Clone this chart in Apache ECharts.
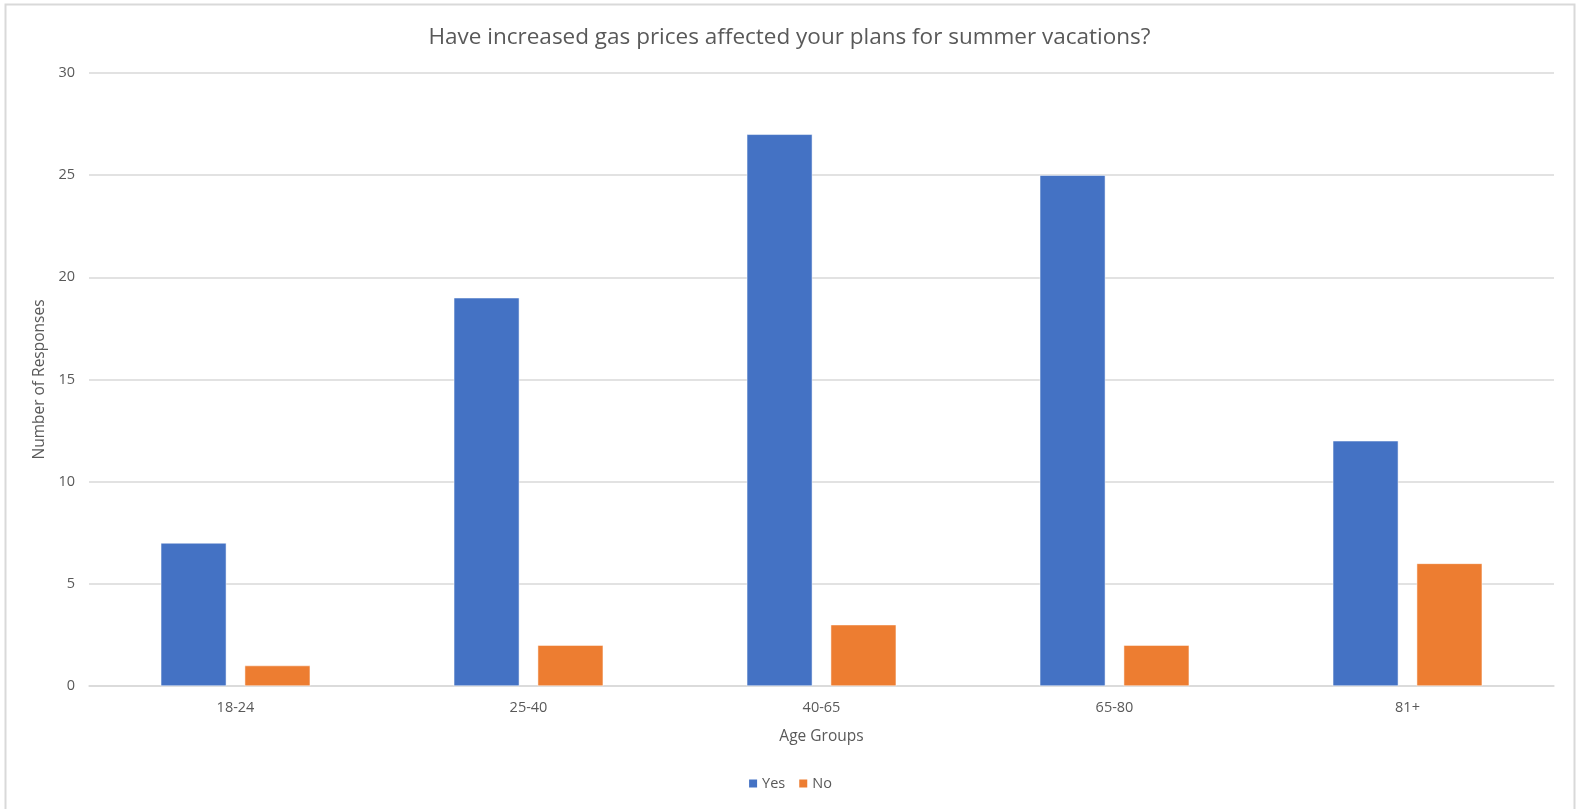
<!DOCTYPE html>
<html>
<head>
<meta charset="utf-8">
<title>Gas prices and summer vacations</title>
<script src="https://cdn.jsdelivr.net/npm/echarts@6/dist/echarts.min.js"></script>
<style>
    html, body { margin: 0; padding: 0; background: #fff; }
    #chart { width: 1579px; height: 809px; }
</style>
</head>
<body>
<div id="chart"></div>
<script>
// data
const ageGroups = ['18-24', '25-40', '40-65', '65-80', '81+']
const yesValues = [7, 19, 27, 25, 12]
const noValues = [1, 2, 3, 2, 6]
const yTicks = { min: 0, max: 30, interval: 5 }

const textColor = '#595959'
const fontFamily = '"Open Sans", "Liberation Sans", sans-serif'

let myChart = echarts.init(document.getElementById('chart'))

let option = {
    backgroundColor: '#fff',
    textStyle: { fontFamily: fontFamily },
    title: {
        text: 'Have increased gas prices affected your plans for summer vacations?',
        left: 'center',
        top: 21,
        textStyle: {
            color: textColor,
            fontSize: 22.5,
            fontWeight: 'normal',
            fontFamily: fontFamily
        }
    },
    legend: {
        bottom: 13,
        left: 'center',
        itemWidth: 10,
        itemHeight: 10,
        itemGap: 12,
        icon: 'rect',
        textStyle: { color: textColor, fontSize: 14.5, padding: [0, 0, 0, -1] },
        data: ['Yes', 'No']
    },
    grid: {
        left: 89,
        right: 25,
        top: 73,
        bottom: 123,
        containLabel: false
    },
    xAxis: {
        type: 'category',
        data: ageGroups,
        name: 'Age Groups',
        nameLocation: 'middle',
        nameGap: 43,
        nameTextStyle: { color: textColor, fontSize: 15.5 },
        axisLine: { lineStyle: { color: '#d9d9d9', width: 1.5 } },
        axisTick: { show: false },
        axisLabel: { color: textColor, fontSize: 14.5, margin: 14 }
    },
    yAxis: {
        type: 'value',
        min: yTicks.min,
        max: yTicks.max,
        interval: yTicks.interval,
        name: 'Number of Responses',
        nameLocation: 'middle',
        nameGap: 37,
        nameTextStyle: { color: textColor, fontSize: 15.5 },
        axisLine: { show: false },
        axisTick: { show: false },
        axisLabel: { color: textColor, fontSize: 14.5, margin: 14 },
        splitLine: { lineStyle: { color: '#d9d9d9', width: 1.5 } }
    },
    series: [
        {
            name: 'Yes',
            type: 'bar',
            data: yesValues,
            barGap: '28%',
            barCategoryGap: '49%',
            itemStyle: { color: '#4472C4', borderColor: '#ffffff', borderWidth: 0.5 }
        },
        {
            name: 'No',
            type: 'bar',
            data: noValues,
            itemStyle: { color: '#ED7D31', borderColor: '#ffffff', borderWidth: 0.5 }
        }
    ],
    graphic: [
        {
            // light outer frame of the chart area
            type: 'rect',
            silent: true,
            shape: { x: 5.5, y: 4.5, width: 1569, height: 812 },
            style: { fill: null, stroke: '#d9d9d9', lineWidth: 2 }
        }
    ]
}

myChart.setOption(option, true)
</script>
</body>
</html>
